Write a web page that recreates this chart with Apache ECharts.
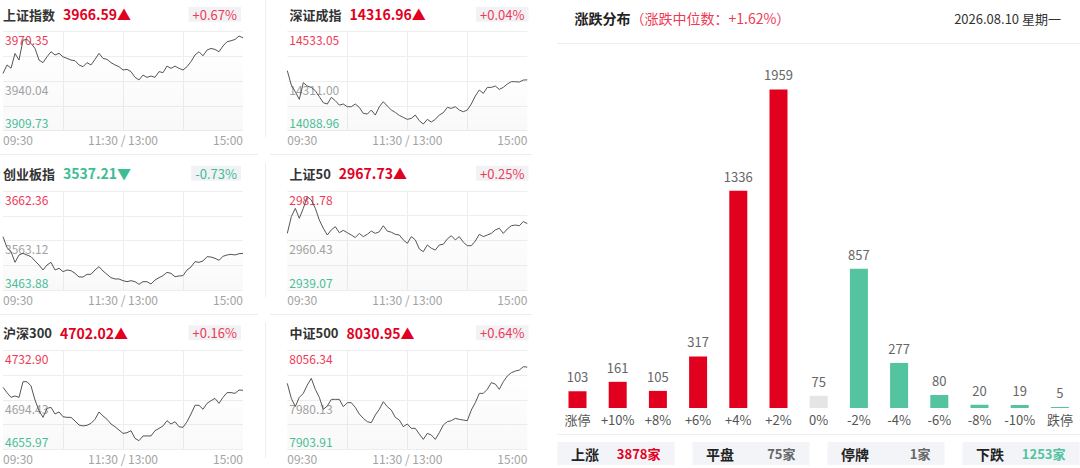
<!DOCTYPE html>
<html>
<head>
<meta charset="utf-8">
<script src="https://cdn.jsdelivr.net/npm/echarts@6/dist/echarts.min.js"></script>
<style>
html,body{margin:0;padding:0;background:#fff;}
#c{width:1080px;height:468px;}
</style>
</head>
<body>
<div id="c"></div>
<script>
// ---------- data ----------
const indexNames = ['上证指数', '深证成指', '创业板指', '上证50', '沪深300', '中证500'];
const indexPrices = ['3966.59', '14316.96', '3537.21', '2967.73', '4702.02', '8030.95'];
const indexChanges = ['+0.67%', '+0.04%', '-0.73%', '+0.25%', '+0.16%', '+0.64%'];
const axisHigh = [3970.35, 14533.05, 3662.36, 2981.78, 4732.90, 8056.34];
const axisPrevClose = [3940.04, 14311.00, 3563.12, 2960.43, 4694.43, 7980.13];
const axisLow = [3909.73, 14088.96, 3463.88, 2939.07, 4655.97, 7903.91];
const timeLabels = ['09:30', '11:30 / 13:00', '15:00'];
const minuteStep = 4; // one reading every 4 trading minutes, 0..240

const shIndex = [
  3944.8, 3950.0, 3948.0, 3957.0, 3953.0, 3965.2, 3965.6, 3963.2, 3960.1, 3953.0,
  3951.4, 3955.0, 3958.1, 3956.1, 3957.1, 3955.0, 3954.0, 3953.0, 3952.6, 3950.0,
  3948.9, 3951.4, 3950.0, 3953.4, 3957.1, 3954.0, 3953.4, 3951.4, 3950.0, 3948.9,
  3946.9, 3947.3, 3945.9, 3942.4, 3940.8, 3943.8, 3942.4, 3943.2, 3942.4, 3945.9,
  3945.3, 3949.3, 3947.9, 3949.3, 3947.9, 3946.9, 3948.9, 3952.0, 3956.1, 3958.1,
  3955.6, 3959.1, 3960.1, 3959.5, 3958.1, 3961.6, 3964.2, 3964.8, 3965.6, 3967.7,
  3966.59
];
const szIndex = [
  14358.1, 14293.8, 14263.9, 14229.5, 14304.3, 14289.3, 14283.3, 14268.4, 14241.5, 14214.5,
  14208.6, 14238.5, 14223.5, 14204.0, 14208.6, 14196.6, 14196.6, 14208.6, 14193.6, 14166.7,
  14163.7, 14181.7, 14159.2, 14196.6, 14219.0, 14199.6, 14181.7, 14171.2, 14157.7, 14148.8,
  14139.8, 14144.3, 14159.2, 14133.8, 14118.9, 14139.8, 14127.8, 14139.8, 14159.2, 14169.7,
  14193.6, 14189.1, 14196.6, 14181.7, 14174.2, 14181.7, 14208.6, 14244.5, 14271.4, 14256.4,
  14283.3, 14283.3, 14289.3, 14274.4, 14283.3, 14298.3, 14308.8, 14308.8, 14307.3, 14316.2,
  14316.96
];
const cybIndex = [
  3570.8, 3548.8, 3540.8, 3519.4, 3534.1, 3537.4, 3534.1, 3530.7, 3522.1, 3514.0,
  3504.0, 3514.0, 3519.4, 3504.0, 3507.4, 3500.7, 3504.0, 3502.7, 3497.3, 3490.0,
  3490.0, 3495.3, 3495.3, 3504.0, 3510.7, 3502.0, 3495.3, 3488.6, 3486.0, 3486.0,
  3482.6, 3480.6, 3482.6, 3480.6, 3475.3, 3480.6, 3480.6, 3475.9, 3484.0, 3488.6,
  3492.7, 3499.3, 3497.3, 3490.6, 3492.0, 3492.7, 3504.0, 3510.0, 3520.7, 3519.4,
  3522.1, 3530.7, 3530.0, 3527.4, 3523.4, 3531.4, 3534.1, 3535.4, 3534.1, 3536.7,
  3537.21
];
const sz50Index = [
  2963.5, 2970.7, 2974.3, 2970.0, 2974.3, 2979.3, 2977.9, 2974.3, 2969.3, 2965.7,
  2962.8, 2965.0, 2966.4, 2963.8, 2964.8, 2963.8, 2962.8, 2961.7, 2963.5, 2962.1,
  2963.1, 2964.5, 2963.5, 2964.2, 2966.8, 2964.5, 2964.0, 2963.1, 2962.8, 2960.7,
  2959.2, 2962.1, 2960.7, 2956.8, 2955.6, 2958.5, 2957.1, 2956.3, 2958.5, 2958.8,
  2961.1, 2962.5, 2960.7, 2962.1, 2959.7, 2958.2, 2958.2, 2960.2, 2963.1, 2962.1,
  2962.8, 2963.5, 2965.0, 2965.7, 2963.5, 2965.4, 2966.8, 2967.1, 2966.8, 2968.6,
  2967.73
];
const hs300Index = [
  4704.3, 4700.2, 4696.5, 4697.6, 4696.5, 4708.7, 4708.7, 4705.4, 4694.4, 4686.1,
  4680.9, 4687.9, 4688.7, 4683.5, 4685.1, 4681.4, 4680.9, 4680.9, 4678.1, 4674.9,
  4674.2, 4674.7, 4676.2, 4679.4, 4685.1, 4682.0, 4679.4, 4675.7, 4673.6, 4671.0,
  4668.4, 4668.9, 4670.5, 4664.5, 4662.7, 4666.4, 4666.4, 4666.4, 4670.5, 4672.3,
  4674.2, 4678.3, 4675.7, 4677.5, 4673.6, 4673.1, 4677.5, 4683.5, 4690.3, 4690.3,
  4687.2, 4691.8, 4693.9, 4695.7, 4691.8, 4696.5, 4700.2, 4700.2, 4699.6, 4702.2,
  4702.02
];
const zz500Index = [
  8005.8, 7982.7, 7970.0, 7984.2, 7990.4, 8003.3, 8013.6, 7996.6, 7984.2, 7965.7,
  7970.8, 7981.1, 7981.1, 7981.1, 7969.8, 7976.0, 7976.0, 7968.7, 7958.4, 7951.8,
  7946.6, 7945.1, 7956.9, 7965.7, 7977.5, 7969.8, 7964.6, 7953.3, 7949.2, 7938.9,
  7943.0, 7936.3, 7936.3, 7927.5, 7919.3, 7928.6, 7926.0, 7919.3, 7929.6, 7941.5,
  7946.6, 7948.1, 7951.8, 7950.2, 7949.2, 7948.1, 7964.6, 7976.0, 7990.4, 7990.4,
  7996.6, 8006.9, 8004.8, 7996.6, 8008.4, 8017.2, 8022.3, 8024.9, 8026.4, 8031.6,
  8030.95
];
const indexSeries = [shIndex, szIndex, cybIndex, sz50Index, hs300Index, zz500Index];

const distTitle = '涨跌分布';
const medianChange = '+1.62%';
const dateText = '2026.08.10 星期一';
const barCategories = ['涨停', '+10%', '+8%', '+6%', '+4%', '+2%', '0%', '-2%', '-4%', '-6%', '-8%', '-10%', '跌停'];
const barValues = [103, 161, 105, 317, 1336, 1959, 75, 857, 277, 80, 20, 19, 5];
const statLabels = ['上涨', '平盘', '停牌', '下跌'];
const statValues = [3878, 75, 1, 1253];
const statUnit = '家';

// ---------- styling / layout ----------
const FONT = "'Microsoft YaHei','Noto Sans CJK SC',sans-serif";
const RED = '#e2001f', RED_L = '#ee3a55', GREEN = '#3dbd92', GREEN_BAR = '#54c39f', GRAY_BAR = '#e5e5e5';
const GRID_C = '#eeeeee';
const colLeft = [3, 287.3];
const plotW = 240;
const rowTop = [31.7, 191, 350.7];
const rowH = [99, 99, 98.6];
const headerY = [14.3, 173.3, 332.7];

const grids = [], xAxes = [], yAxes = [], series = [], graphics = [];

function addText(x, y, text, style, align) {
  const a = align || 'left';
  graphics.push({
    type: 'text', x: x, y: y, silent: true, z: 10,
    style: Object.assign({
      text: text, fill: '#333', font: '13px ' + FONT,
      align: a, textAlign: a, verticalAlign: 'middle', textVerticalAlign: 'middle'
    }, style || {})
  });
}
function addLine(x1, y1, x2, y2, color) {
  graphics.push({
    type: 'line', silent: true, z: 0,
    shape: { x1: x1, y1: y1, x2: x2, y2: y2 },
    style: { stroke: color || GRID_C, lineWidth: 1 }
  });
}

indexSeries.forEach(function (vals, i) {
  const r = Math.floor(i / 2), c = i % 2;
  const left = colLeft[c];
  grids.push({ left: left, top: rowTop[r], width: plotW, height: rowH[r] });
  xAxes.push({
    gridIndex: i, type: 'value', min: 0, max: 240, interval: 60,
    axisLine: { show: false }, axisTick: { show: false },
    splitLine: { show: true, showMinLine: false, showMaxLine: false, lineStyle: { color: GRID_C, width: 1 } },
    axisLabel: {
      color: '#a3a3a3', fontSize: 12, fontFamily: FONT, margin: 3,
      alignMinLabel: 'left', alignMaxLabel: 'right',
      formatter: function (v) {
        if (v === 0) return timeLabels[0];
        if (v === 120) return timeLabels[1];
        if (v === 240) return timeLabels[2];
        return '';
      }
    }
  });
  yAxes.push({ gridIndex: i, type: 'value', min: axisLow[i], max: axisHigh[i], show: false });
  const hi = axisHigh[i], mid = axisPrevClose[i], lo = axisLow[i];
  const lbl = function (txt, color, pos) {
    return { show: true, formatter: txt, color: color, position: pos, fontSize: 12, fontFamily: FONT, distance: [2, 2] };
  };
  series.push({
    type: 'line', xAxisIndex: i, yAxisIndex: i, z: 3,
    data: vals.map(function (v, k) { return [k * minuteStep, v]; }),
    showSymbol: false, symbol: 'none', silent: true,
    lineStyle: { color: '#555', width: 1 },
    areaStyle: {
      color: { type: 'linear', x: 0, y: 0, x2: 0, y2: 1,
        colorStops: [{ offset: 0, color: 'rgba(0,0,0,0.0)' }, { offset: 1, color: 'rgba(0,0,0,0.035)' }] }
    },
    emphasis: { disabled: true },
    markLine: {
      z: 1, silent: true, symbol: 'none', animation: false,
      lineStyle: { color: GRID_C, type: 'solid', width: 1 },
      emphasis: { disabled: true },
      data: [
        { yAxis: hi, label: lbl(hi.toFixed(2), RED_L, 'insideStartBottom') },
        { yAxis: (hi + mid) / 2, label: { show: false } },
        { yAxis: mid, label: lbl(mid.toFixed(2), '#a3a3a3', 'insideStartBottom') },
        { yAxis: (mid + lo) / 2, label: { show: false } },
        { yAxis: lo, label: lbl(lo.toFixed(2), '#4cc29b', 'insideStartTop') }
      ]
    }
  });

  // header: name + price, change box
  const up = indexChanges[i].charAt(0) !== '-';
  const priceColor = up ? RED : GREEN;
  const nameX = c === 0 ? 3 : 289.5;
  graphics.push({
    type: 'text', x: nameX, y: headerY[r], silent: true, z: 10,
    style: {
      text: '{n|' + indexNames[i] + '}{p|' + indexPrices[i] + (up ? '▲' : '▼') + '}',
      verticalAlign: 'middle', textVerticalAlign: 'middle',
      rich: {
        n: { font: 'bold 13px ' + FONT, fill: '#333', padding: [0, 8, 0, 0] },
        p: { font: 'bold 14px ' + FONT, fill: priceColor }
      }
    }
  });
  addText(c === 0 ? 241 : 528.5, headerY[r], indexChanges[i], {
    fill: up ? RED_L : GREEN, font: '13px ' + FONT,
    backgroundColor: '#f1f2f6', padding: [1, 4, 1, 4]
  }, 'right');
});

// panel separators
addLine(265.5, 0, 265.5, 137);
addLine(265.5, 163, 265.5, 297);
addLine(265.5, 322, 265.5, 458);
addLine(0, 154.5, 258, 154.5);
addLine(270, 154.5, 532, 154.5);
addLine(0, 314.5, 258, 314.5);
addLine(270, 314.5, 532, 314.5);

// ---------- distribution bar chart ----------
const barGrid = grids.length;
grids.push({ left: 557.4, top: 60, width: 522.6, height: 348 });
xAxes.push({
  gridIndex: barGrid, type: 'category', data: barCategories,
  axisLine: { show: false }, axisTick: { show: false },
  axisLabel: { color: '#555', fontSize: 13, fontFamily: FONT, margin: 5, interval: 0 }
});
yAxes.push({ gridIndex: barGrid, type: 'value', min: 0, max: 2140, show: false });
series.push({
  type: 'bar', xAxisIndex: barGrid, yAxisIndex: barGrid, barWidth: 18, barMinHeight: 1,
  silent: true,
  data: barValues.map(function (v, k) {
    const col = k < 6 ? RED : (k === 6 ? GRAY_BAR : GREEN_BAR);
    return { value: v, itemStyle: { color: col } };
  }),
  label: { show: true, position: 'top', distance: 8, color: '#666', fontSize: 13, fontFamily: FONT },
  emphasis: { disabled: true }
});

// right header
graphics.push({
  type: 'text', x: 574.5, y: 18, silent: true, z: 10,
  style: {
    text: '{a|' + distTitle + '}{b|（涨跌中位数：' + medianChange + '）}',
    verticalAlign: 'middle', textVerticalAlign: 'middle',
    rich: {
      a: { font: 'bold 14px ' + FONT, fill: '#222' },
      b: { font: '14px ' + FONT, fill: RED_L }
    }
  }
});
addText(1061, 18, dateText, { fill: '#333', font: '13px ' + FONT }, 'right');
addLine(557, 43.5, 1080, 43.5);
addLine(557, 434.5, 1080, 434.5);

// footer stats
const statColors = [RED, '#666', '#666', '#52c3a0'];
statLabels.forEach(function (lab, i) {
  const bx = 557.5 + i * 135, bw = 117, by = 442, bh = 23;
  graphics.push({ type: 'rect', silent: true, z: 5, shape: { x: bx, y: by, width: bw, height: bh }, style: { fill: '#f3f4f8' } });
  addText(bx + 13.5, by + bh / 2, lab, { fill: '#222', font: 'bold 14px ' + FONT });
  addText(bx + bw - 14, by + bh / 2, statValues[i] + statUnit, { fill: statColors[i], font: 'bold 13px ' + FONT }, 'right');
});

const chart = echarts.init(document.getElementById('c'), null, { renderer: 'svg' });
chart.setOption({
  animation: false,
  backgroundColor: '#ffffff',
  textStyle: { fontFamily: FONT },
  grid: grids,
  xAxis: xAxes,
  yAxis: yAxes,
  series: series,
  graphic: { elements: graphics }
});
</script>
</body>
</html>
